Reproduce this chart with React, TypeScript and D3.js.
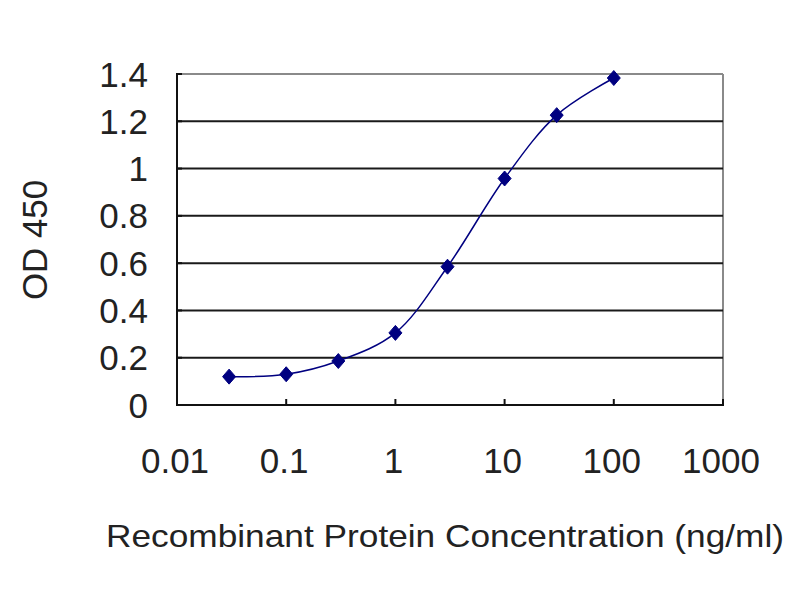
import React from "react";
import * as d3 from "d3";

const concentrations = [0.03, 0.1, 0.3, 1, 3, 10, 30, 100];
const od450 = [0.12, 0.13, 0.186, 0.305, 0.585, 0.958, 1.226, 1.383];
const xTicks = [0.01, 0.1, 1, 10, 100, 1000];
const xTickLabels = ["0.01", "0.1", "1", "10", "100", "1000"];
const yTicks = [0, 0.2, 0.4, 0.6, 0.8, 1, 1.2, 1.4];
const yTickLabels = ["0", "0.2", "0.4", "0.6", "0.8", "1", "1.2", "1.4"];
const xTitle = "Recombinant Protein Concentration (ng/ml)";
const yTitle = "OD 450";

const W = 800, H = 600;
const m = { left: 177, right: 723, top: 74, bottom: 405 };
const NAVY = "#000080";
const FONT = "'Liberation Sans', Arial, sans-serif";

export default function App() {
  const x = d3.scaleLog().domain([0.01, 1000]).range([m.left, m.right]);
  const y = d3.scaleLinear().domain([0, 1.4]).range([m.bottom, m.top]);
  const pts: [number, number][] = concentrations.map((c, i) => [x(c), y(od450[i])]);
  const line = d3.line().curve(d3.curveCatmullRom.alpha(0.5))(pts) || "";
  const diamond = (cx: number, cy: number) =>
    `M${cx},${cy - 7.5}L${cx + 6.5},${cy}L${cx},${cy + 7.5}L${cx - 6.5},${cy}Z`;

  return (
    <svg width={W} height={H} style={{ position: "absolute", left: 0, top: 0, background: "#fff" }}>
      <rect x={0} y={0} width={W} height={H} fill="#fff" />
      {/* plot border (gray top/right) */}
      <line x1={m.left} x2={m.right} y1={m.top} y2={m.top} stroke="#8a8a8a" strokeWidth={2} />
      <line x1={m.right} x2={m.right} y1={m.top} y2={m.bottom} stroke="#8a8a8a" strokeWidth={2} />
      {/* gridlines */}
      {yTicks.filter((t) => t > 0 && t < 1.4).map((t) => (
        <line key={t} x1={m.left} x2={m.right} y1={y(t)} y2={y(t)} stroke="#1a1a1a" strokeWidth={2} />
      ))}
      {/* axes */}
      <line x1={m.left} x2={m.left} y1={m.top - 1} y2={m.bottom + 1} stroke="#111" strokeWidth={2} />
      <line x1={m.left - 1} x2={m.right + 1} y1={m.bottom} y2={m.bottom} stroke="#111" strokeWidth={2} />
      {xTicks.map((t) => (
        <line key={t} x1={x(t)} x2={x(t)} y1={m.bottom} y2={m.bottom - 6} stroke="#111" strokeWidth={2} />
      ))}
      {yTicks.map((t) => (
        <line key={t} x1={m.left} x2={m.left + 5} y1={y(t)} y2={y(t)} stroke="#111" strokeWidth={2} />
      ))}
      {/* y tick labels */}
      {yTicks.map((t, i) => (
        <text key={t} x={148} y={y(t)} dy="0.36em" textAnchor="end" fontFamily={FONT} fontSize={35} fill="#222">
          {yTickLabels[i]}
        </text>
      ))}
      {/* x tick labels */}
      {xTicks.map((t, i) => (
        <text key={t} x={x(t) - 2} y={473} textAnchor="middle" fontFamily={FONT} fontSize={35} fill="#222">
          {xTickLabels[i]}
        </text>
      ))}
      {/* titles */}
      <text x={445} y={547} textAnchor="middle" fontFamily={FONT} fontSize={32} fill="#222"
        textLength={678} lengthAdjust="spacingAndGlyphs">{xTitle}</text>
      <text transform="translate(47,240) rotate(-90)" textAnchor="middle" fontFamily={FONT} fontSize={35} fill="#222"
        textLength={120} lengthAdjust="spacingAndGlyphs">{yTitle}</text>
      {/* series */}
      <path d={line} fill="none" stroke={NAVY} strokeWidth={1.5} />
      {pts.map(([px, py], i) => (
        <path key={i} d={diamond(px, py)} fill={NAVY} stroke={NAVY} strokeWidth={1} />
      ))}
    </svg>
  );
}
